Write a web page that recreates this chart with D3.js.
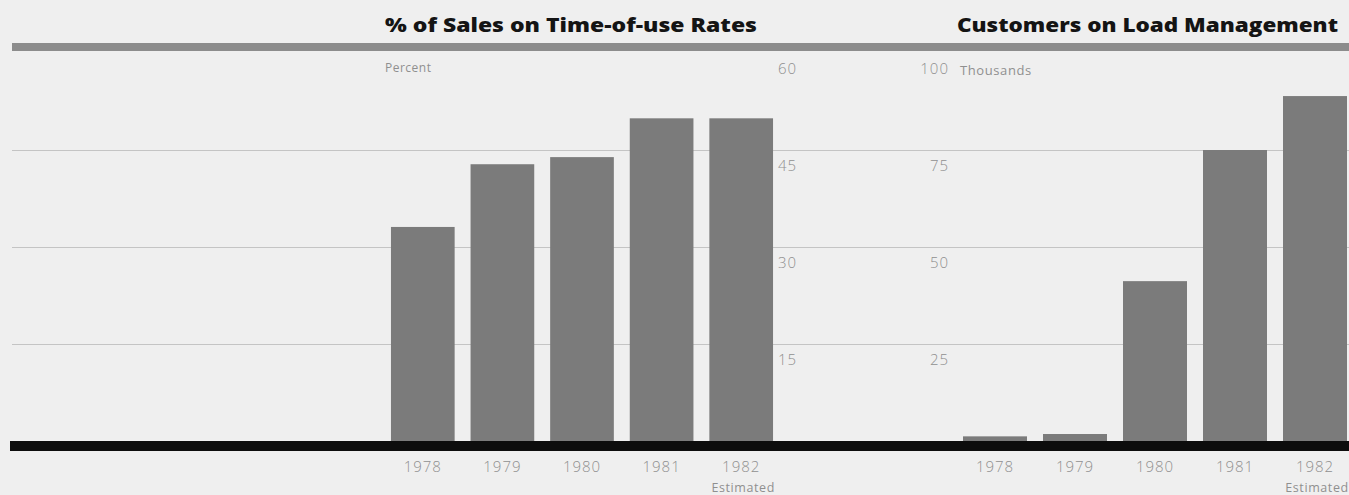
<!DOCTYPE html>
<html><head><meta charset="utf-8">
<script src="https://cdn.jsdelivr.net/npm/d3@7"></script>
<style>
html,body{margin:0;padding:0;background:#efefef;}
svg{display:block;}
</style></head>
<body>
<svg id="c" width="1349" height="495"></svg>
<script>
const years = ["1978","1979","1980","1981","1982"];
const salesPct = [33.1, 42.8, 43.9, 49.9, 49.9];
const customersK = [1.2, 1.8, 41.2, 75.0, 88.9];
const leftTicks = [15, 30, 45, 60];
const rightTicks = [25, 50, 75, 100];
const titleLeft = "% of Sales on Time-of-use Rates";
const titleRight = "Customers on Load Management";
const unitLeft = "Percent";
const unitRight = "Thousands";
const noteLast = "Estimated";

const svg = d3.select("#c");
const W = 1349, H = 495;
const base = 441;
svg.append("rect").attr("width", W).attr("height", H).attr("fill", "#efefef");

const yL = d3.scaleLinear().domain([0, 60]).range([base, 53]);
const yR = d3.scaleLinear().domain([0, 100]).range([base, 53]);
const xL = d3.scaleBand().domain(years).range([383, 781]).paddingInner(0.2).paddingOuter(0.1);
const xR = d3.scaleBand().domain(years).range([955, 1355]).paddingInner(0.2).paddingOuter(0.1);

// gridlines
svg.append("g").selectAll("line").data(leftTicks.filter(d => d < 60)).join("line")
  .attr("x1", 12).attr("x2", 776)
  .attr("y1", d => Math.round(yL(d)) + 0.5).attr("y2", d => Math.round(yL(d)) + 0.5)
  .attr("stroke", "#c4c4c4").attr("stroke-width", 1);
svg.append("g").selectAll("line").data(rightTicks.filter(d => d < 100)).join("line")
  .attr("x1", 776).attr("x2", W)
  .attr("y1", d => Math.round(yR(d)) + 0.5).attr("y2", d => Math.round(yR(d)) + 0.5)
  .attr("stroke", "#c4c4c4").attr("stroke-width", 1);

// top band
svg.append("rect").attr("x", 12).attr("y", 43).attr("width", W - 12).attr("height", 8).attr("fill", "#8c8c8c");

// bars
svg.append("g").selectAll("rect").data(years).join("rect")
  .attr("x", d => xL(d)).attr("width", xL.bandwidth())
  .attr("y", (d, i) => yL(salesPct[i])).attr("height", (d, i) => base - yL(salesPct[i]))
  .attr("fill", "#7b7b7b");
svg.append("g").selectAll("rect").data(years).join("rect")
  .attr("x", d => xR(d)).attr("width", xR.bandwidth())
  .attr("y", (d, i) => yR(customersK[i])).attr("height", (d, i) => base - yR(customersK[i]))
  .attr("fill", "#7b7b7b");

// baseline
svg.append("rect").attr("x", 10).attr("y", base).attr("width", W - 10).attr("height", 10).attr("fill", "#0d0d0d");

const tickFont = "'Open Sans', sans-serif";
const tickColor = "#8f8f8f";
function styleTicks(sel) {
  sel.attr("font-family", tickFont).attr("font-size", 15).attr("letter-spacing", 1)
    .attr("font-weight", 300).attr("fill", tickColor);
}
// left axis labels
const axL = svg.append("g").attr("transform", "translate(778,0)")
  .call(d3.axisRight(yL).tickValues(leftTicks).tickSize(0).tickPadding(0));
axL.select(".domain").remove();
axL.selectAll("text").attr("dy", "0.32em").attr("x", 0).attr("y", 16).call(styleTicks);

// right axis labels
const axR = svg.append("g").attr("transform", "translate(949,0)")
  .call(d3.axisLeft(yR).tickValues(rightTicks).tickSize(0).tickPadding(0));
axR.select(".domain").remove();
axR.selectAll("text").attr("dy", "0.32em").attr("x", 0).attr("y", 16).call(styleTicks);

// x axes
function xAxis(scale) {
  const g = svg.append("g").attr("transform", `translate(0,${base + 10})`)
    .call(d3.axisBottom(scale).tickSize(0).tickPadding(0));
  g.select(".domain").remove();
  g.selectAll("text").attr("dy", "0.32em").attr("y", 16).call(styleTicks);
  g.append("text").attr("x", scale("1982") + scale.bandwidth() / 2 + 2).attr("y", 37)
    .attr("dy", "0.32em")
    .attr("text-anchor", "middle").attr("font-family", tickFont).attr("font-size", 12.5)
    .attr("letter-spacing", 0.6).attr("fill", tickColor).text(noteLast);
}
xAxis(xL);
xAxis(xR);

// unit labels
svg.append("text").attr("x", 385).attr("y", 72).attr("font-family", tickFont).attr("font-size", 12)
  .attr("letter-spacing", 0.5).attr("fill", tickColor).text(unitLeft);
svg.append("text").attr("x", 960).attr("y", 75).attr("font-family", tickFont).attr("font-size", 13)
  .attr("letter-spacing", 0.6).attr("fill", tickColor).text(unitRight);

// titles
svg.append("text").attr("x", 385).attr("y", 32).attr("font-family", "'Open Sans', sans-serif")
  .attr("font-weight", 800).attr("font-size", 20).attr("fill", "#141414")
  .attr("textLength", 372).attr("lengthAdjust", "spacingAndGlyphs").text(titleLeft);
svg.append("text").attr("x", 957).attr("y", 32).attr("font-family", "'Open Sans', sans-serif")
  .attr("font-weight", 800).attr("font-size", 20).attr("fill", "#141414")
  .attr("textLength", 381).attr("lengthAdjust", "spacingAndGlyphs").text(titleRight);
</script>
</body></html>
